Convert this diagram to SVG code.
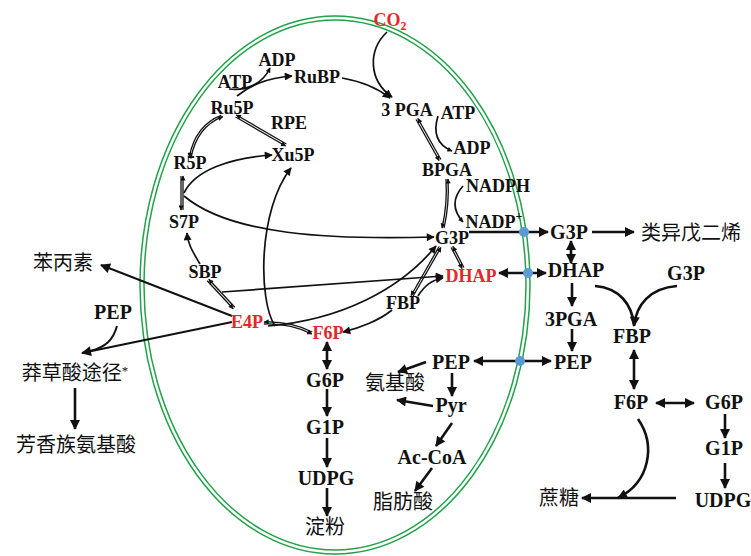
<svg xmlns="http://www.w3.org/2000/svg" width="751" height="556" viewBox="0 0 751 556">
<style>
.t{font-family:"Liberation Serif","Times New Roman",serif;font-weight:bold;font-size:18px;text-anchor:middle;fill:#111}
.L{font-size:20px}
.r{fill:#e8262a}
.cn{font-family:"Noto Sans CJK SC","Noto Sans CJK JP",sans-serif;font-weight:normal;font-size:20px;text-anchor:middle;fill:#111}
.c{fill:none;stroke:#111;stroke-width:1.7}
.k{fill:none;stroke:#111;stroke-width:2.6}
.d{fill:none;stroke:#111;stroke-width:1.3}
.mem{fill:none;stroke:#22a24a;stroke-width:1.5}
.dot{fill:#5b9bd5}
</style>
<defs>
<marker id="a" viewBox="0 0 10 10" refX="9" refY="5" markerWidth="10" markerHeight="8" markerUnits="userSpaceOnUse" orient="auto-start-reverse"><path d="M0,0 L10,5 L0,10 z" fill="#111"/></marker>
<marker id="A" viewBox="0 0 10 10" refX="9" refY="5" markerWidth="12" markerHeight="10" markerUnits="userSpaceOnUse" orient="auto-start-reverse"><path d="M0,0 L10,5 L0,10 z" fill="#111"/></marker>
<marker id="s" viewBox="0 0 10 10" refX="9" refY="5" markerWidth="7" markerHeight="5" markerUnits="userSpaceOnUse" orient="auto"><path d="M0,0 L10,5 L0,10 z" fill="#111"/></marker>
</defs>
<rect width="751" height="556" fill="#fff"/>
<g id="chloroplast">
<ellipse class="mem" cx="335" cy="285" rx="195" ry="269"/>
<ellipse class="mem" cx="335" cy="285" rx="191" ry="265"/>
</g>
<g id="connectors">
<path class="c" d="M237,96 C250,86 265,78 292,76" marker-end="url(#a)"/>
<path class="c" d="M229,89 C245,91 262,85 270,68" marker-end="url(#s)"/>
<path class="d" d="M235.6,117 L285.6,146" marker-end="url(#s)"/>
<path class="d" d="M286.4,144 L236.4,115" marker-end="url(#s)"/>
<path class="d" d="M221.2,115.3 Q195.2,125.3 189.2,157.3" marker-end="url(#s)"/>
<path class="d" d="M190.8,158.7 Q196.8,126.7 222.8,116.7" marker-end="url(#s)"/>
<path class="d" d="M181,176 L181,210" marker-end="url(#s)"/>
<path class="d" d="M183,210 L183,176" marker-end="url(#s)"/>
<path class="c" d="M184,193 C195,170 230,158 272,155" marker-end="url(#a)"/>
<path class="c" d="M184,196 C230,235 330,240 434,237" marker-end="url(#a)"/>
<path class="c" d="M200,264 C193,252 188,245 187,233" marker-end="url(#a)"/>
<path class="d" d="M207.2,280.7 L233.2,308.7" marker-end="url(#s)"/>
<path class="d" d="M234.8,307.3 L208.8,279.3" marker-end="url(#s)"/>
<path class="c" d="M222,292 L443,276" marker-end="url(#a)"/>
<path class="d" d="M263.8,324 Q289.8,323 311.8,334" marker-end="url(#s)"/>
<path class="d" d="M312.2,332 Q290.2,321 264.2,322" marker-end="url(#s)"/>
<path class="c" d="M275,326 C258,300 258,210 291,168" marker-end="url(#a)"/>
<path class="c" d="M268,326 C340,320 400,290 436,246" marker-end="url(#a)"/>
<path class="c" d="M392,310 C380,320 360,328 343,332" marker-end="url(#a)"/>
<path class="c" d="M418,296 C425,285 432,280 443,278" marker-end="url(#a)"/>
<path class="d" d="M439.1,246.5 L411.1,295.5" marker-end="url(#s)"/>
<path class="d" d="M412.9,296.5 L440.9,247.5" marker-end="url(#s)"/>
<path class="d" d="M451.1,247.5 L462.1,268.5" marker-end="url(#s)"/>
<path class="d" d="M463.9,267.5 L452.9,246.5" marker-end="url(#s)"/>
<path class="d" d="M446,179 Q447.5,205 442,228" marker-end="url(#s)"/>
<path class="d" d="M444,228 Q449.5,205 448,179" marker-end="url(#s)"/>
<path class="c" d="M463,186 Q447,204 463,222" marker-end="url(#s)"/>
<path class="d" d="M416.1,119.5 L439.1,160.5" marker-end="url(#s)"/>
<path class="d" d="M440.9,159.5 L417.9,118.5" marker-end="url(#s)"/>
<path class="c" d="M438,116 Q430,142 452,151" marker-end="url(#s)"/>
<path class="c" d="M342,78 C365,82 380,90 390,98" marker-end="url(#a)"/>
<path class="c" d="M387,32 C368,50 368,80 392,97" marker-end="url(#a)"/>
<path class="k" d="M469,232 L548,232" marker-end="url(#A)"/>
<path class="k" d="M499,273 L546,273" marker-start="url(#A)" marker-end="url(#A)"/>
<path class="k" d="M474,361 L551,361" marker-start="url(#A)" marker-end="url(#A)"/>
<path class="k" d="M592,232 L634,232" marker-end="url(#A)"/>
<path class="k" d="M571,241 L571,263" marker-start="url(#A)" marker-end="url(#A)"/>
<path class="k" d="M572,283 L572,306" marker-end="url(#A)"/>
<path class="k" d="M572,329 L572,351" marker-end="url(#A)"/>
<path class="k" d="M595,286 C620,288 632,305 634,325"/>
<path class="k" d="M677,286 C650,288 636,305 634,326" marker-end="url(#A)"/>
<path class="k" d="M634,350 L634,389" marker-start="url(#A)" marker-end="url(#A)"/>
<path class="k" d="M656,403 L694,403" marker-start="url(#A)" marker-end="url(#A)"/>
<path class="k" d="M725,414 L725,438" marker-end="url(#A)"/>
<path class="k" d="M725,463 L725,488" marker-end="url(#A)"/>
<path class="k" d="M676,498 L582,498" marker-end="url(#A)"/>
<path class="k" d="M638,419 C656,445 650,482 618,498" marker-end="url(#A)"/>
<path class="k" d="M327,342 L327,369" marker-start="url(#A)" marker-end="url(#A)"/>
<path class="k" d="M327,389 L327,416" marker-end="url(#A)"/>
<path class="k" d="M327,438 L327,467" marker-end="url(#A)"/>
<path class="k" d="M327,488 L327,516" marker-end="url(#A)"/>
<path class="k" d="M426,362 L398,372" marker-end="url(#A)"/>
<path class="k" d="M452,373 L452,396" marker-end="url(#A)"/>
<path class="k" d="M433,406 L397,400" marker-end="url(#A)"/>
<path class="k" d="M452,423 L436,446" marker-end="url(#A)"/>
<path class="k" d="M432,468 L415,491" marker-end="url(#A)"/>
<path class="k" style="stroke-width:2" d="M232,316 L101,265" marker-end="url(#A)"/>
<path class="k" style="stroke-width:2" d="M232,322 L82,353" marker-end="url(#A)"/>
<path class="k" style="stroke-width:2" d="M117,326 C113,340 106,347 90,351"/>
<path class="k" d="M75,388 L75,429" marker-end="url(#A)"/>
<circle class="dot" cx="524" cy="232" r="5"/>
<circle class="dot" cx="528" cy="273" r="5"/>
<circle class="dot" cx="520" cy="361" r="5"/>
</g>
<g id="n-co2"><text class="t r" x="390" y="26">CO<tspan font-size="12" dy="4">2</tspan></text></g>
<g id="n-adp1"><text class="t" x="277" y="66">ADP</text></g>
<g id="n-atp1"><text class="t" x="235" y="88">ATP</text></g>
<g id="n-rubp"><text class="t" x="317" y="83">RuBP</text></g>
<g id="n-ru5p"><text class="t" x="232" y="114">Ru5P</text></g>
<g id="n-rpe"><text class="t" x="289" y="129">RPE</text></g>
<g id="n-xu5p"><text class="t" x="293" y="161">Xu5P</text></g>
<g id="n-r5p"><text class="t" x="190" y="169">R5P</text></g>
<g id="n-s7p"><text class="t" x="184" y="228">S7P</text></g>
<g id="n-sbp"><text class="t" x="205" y="278">SBP</text></g>
<g id="n-e4p"><text class="t r" x="247" y="328">E4P</text></g>
<g id="n-f6p"><text class="t r" x="328" y="339">F6P</text></g>
<g id="n-3pga"><text class="t" x="407" y="116">3 PGA</text></g>
<g id="n-atp2"><text class="t" x="458" y="119">ATP</text></g>
<g id="n-adp2"><text class="t" x="472" y="154">ADP</text></g>
<g id="n-bpga"><text class="t" x="447" y="176">BPGA</text></g>
<g id="n-nadph"><text class="t" x="498" y="192">NADPH</text></g>
<g id="n-nadp"><text class="t" x="494" y="228">NADP<tspan font-size="12" dy="-8">+</tspan></text></g>
<g id="n-g3p"><text class="t" x="452" y="244">G3P</text></g>
<g id="n-dhap"><text class="t r" x="471" y="282">DHAP</text></g>
<g id="n-fbp"><text class="t" x="403" y="309">FBP</text></g>
<g id="n-g6p"><text class="t L" x="325" y="387">G6P</text></g>
<g id="n-g1p"><text class="t L" x="325" y="434">G1P</text></g>
<g id="n-udpg"><text class="t L" x="326" y="485">UDPG</text></g>
<g id="n-starch"><text class="cn" x="325" y="534">淀粉</text></g>
<g id="n-pep"><text class="t L" x="451" y="369">PEP</text></g>
<g id="n-aa"><text class="cn" x="395" y="390">氨基酸</text></g>
<g id="n-pyr"><text class="t L" x="451" y="412">Pyr</text></g>
<g id="n-acoa"><text class="t L" x="432" y="464">Ac-CoA</text></g>
<g id="n-fa"><text class="cn" x="403" y="509">脂肪酸</text></g>
<g id="n-phenyl"><text class="cn" x="63" y="270">苯丙素</text></g>
<g id="n-pep-l"><text class="t L" x="113" y="319">PEP</text></g>
<g id="n-shik"><text class="cn" x="75" y="380">莽草酸途径<tspan font-family="Liberation Serif,serif" font-size="13" dy="-5">*</tspan></text></g>
<g id="n-aro"><text class="cn" x="76" y="452">芳香族氨基酸</text></g>
<g id="n-g3p-r"><text class="t L" x="569" y="239">G3P</text></g>
<g id="n-iso"><text class="cn" x="691" y="240">类异戊二烯</text></g>
<g id="n-dhap-r"><text class="t L" x="576" y="277">DHAP</text></g>
<g id="n-g3p-r2"><text class="t L" x="686" y="280">G3P</text></g>
<g id="n-3pga-r"><text class="t L" x="571" y="326">3PGA</text></g>
<g id="n-fbp-r"><text class="t L" x="632" y="343">FBP</text></g>
<g id="n-pep-r"><text class="t L" x="573" y="369">PEP</text></g>
<g id="n-f6p-r"><text class="t L" x="631" y="409">F6P</text></g>
<g id="n-g6p-r"><text class="t L" x="724" y="409">G6P</text></g>
<g id="n-g1p-r"><text class="t L" x="724" y="455">G1P</text></g>
<g id="n-udpg-r"><text class="t L" x="723" y="507">UDPG</text></g>
<g id="n-sucrose"><text class="cn" x="559" y="505">蔗糖</text></g>
</svg>
